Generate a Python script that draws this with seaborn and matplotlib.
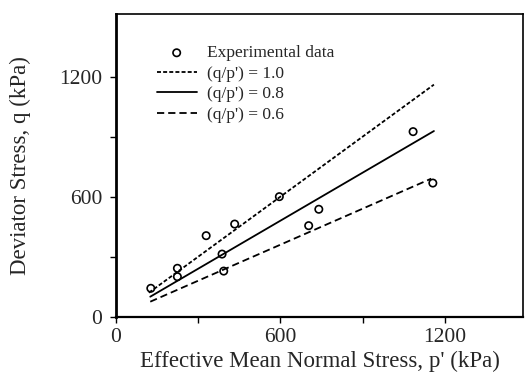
import numpy as np
import pandas as pd
import matplotlib
matplotlib.use('Agg')
import matplotlib.pyplot as plt
import seaborn as sns

# experimental points (kPa)
p_exp = [127, 224, 224, 329, 387, 393, 433, 596, 703, 740, 1084, 1156]
q_exp = [142, 242, 200, 405, 313, 228, 463, 600, 455, 537, 925, 668]

# q/p' lines (end points)
p_10 = [120, 1160]
q_10 = [120, 1160]
p_08 = [125, 1160]
q_08 = [100, 928]
p_06 = [125, 1150]
q_06 = [75, 690]

x_ticks = [0, 600, 1200]
y_ticks = [0, 600, 1200]

sns.set_theme(style='ticks')
plt.rcParams['font.family'] = ['Liberation Serif', 'DejaVu Serif']

fig = plt.figure(figsize=(5.25, 3.81), dpi=100)
ax = fig.add_axes([116 / 525, 1 - 316.7 / 381, 407 / 525, 302.7 / 381])

df = pd.DataFrame({'p': p_exp, 'q': q_exp})
sns.scatterplot(data=df, x='p', y='q', ax=ax, marker='o', s=28,
                facecolors='none', edgecolor='black', linewidth=1.2,
                label='Experimental data', zorder=3)
sns.lineplot(x=p_10, y=q_10, ax=ax, color='black', lw=1.3,
             linestyle=(0, (2.2, 1.2)), label="(q/p') = 1.0")
sns.lineplot(x=p_08, y=q_08, ax=ax, color='black', lw=1.3,
             linestyle='-', label="(q/p') = 0.8")
sns.lineplot(x=p_06, y=q_06, ax=ax, color='black', lw=1.3,
             linestyle=(0, (4, 2.2)), label="(q/p') = 0.6")

ax.set_xlim(0, 1485)
ax.set_ylim(0, 1513)
ax.set_xticks(x_ticks)
ax.set_yticks(y_ticks)
ax.set_xticks([300, 900], minor=True)
ax.set_yticks([300, 900], minor=True)
ax.tick_params(which='both', direction='out', length=4, width=1.0,
               color='black', labelsize=15.5)
ax.tick_params(axis='y', pad=6)
ax.tick_params(axis='x', pad=4)
for s in ax.spines.values():
    s.set_visible(True)
    s.set_color('black')
    s.set_linewidth(1.2)
ax.spines['left'].set_linewidth(2.0)
ax.spines['bottom'].set_linewidth(1.6)

ax.set_xlabel("Effective Mean Normal Stress, p' (kPa)", fontsize=16.5, labelpad=3)
ax.set_ylabel('Deviator Stress, q (kPa)', fontsize=16.5, labelpad=20)

ax.legend(loc='upper left', bbox_to_anchor=(0.10, 0.897), frameon=False,
          fontsize=12.5, handlelength=2.3, handletextpad=0.6, labelspacing=0.25,
          borderpad=0, borderaxespad=0)

fig.savefig('out.png', dpi=100)
